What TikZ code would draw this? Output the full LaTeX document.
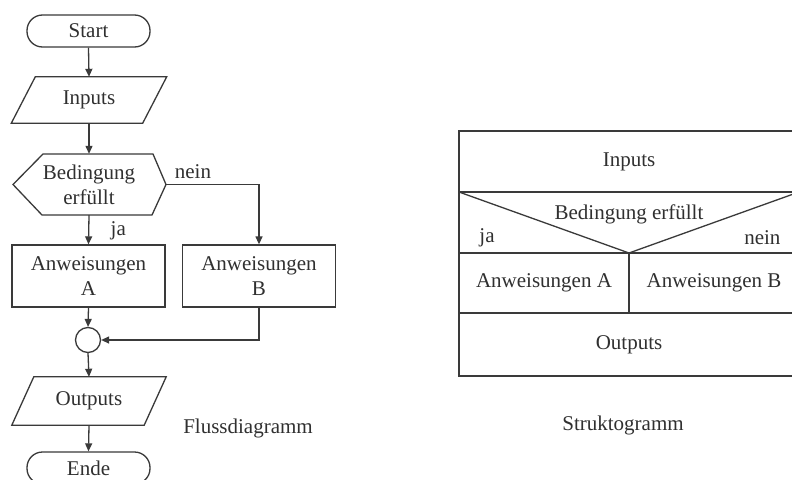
\documentclass[tikz,border=0pt]{standalone}
\usepackage{fontspec}
\setmainfont{Liberation Serif}
\usetikzlibrary{arrows.meta}
\definecolor{ln}{HTML}{3A3A3A}
\definecolor{tx}{HTML}{303030}
\begin{document}
\begin{tikzpicture}[x=1pt,y=-1pt,
  every node/.style={text=tx,font=\fontsize{21}{25}\selectfont},
  line/.style={draw=ln,line width=1.3pt},
  arr/.style={line,-{Triangle[length=8pt,width=7pt]}},
  term/.style={line,rounded corners=15.5pt,minimum width=123pt,minimum height=32pt,inner sep=0pt},
  box/.style={line,minimum width=153pt,minimum height=62pt,inner sep=0pt,align=center},
  ghost/.style={inner sep=0pt,align=center}]
\useasboundingbox (0,0) rectangle (792,479);
\clip (0,0) rectangle (792,479);
\fill[white] (0,0) rectangle (792,479);

% Flussdiagramm
\node[term] (st) at (88.5,31) {Start};
\node[ghost,minimum width=131pt,minimum height=46pt] (in) at (89,100) {Inputs};
\draw[line] ([xshift=12pt]in.north west) -- ([xshift=12pt]in.north east)
  -- ([xshift=-12pt]in.south east) -- ([xshift=-12pt]in.south west) -- cycle;
\node[ghost,minimum width=110pt,minimum height=61pt] (hx) at (89,184.5) {Bedingung\\erfüllt};
\draw[line] ([shift={(-46,-30.5)}]hx.center) -- ([shift={(64,-30.5)}]hx.center)
  -- ([shift={(77,0)}]hx.center) -- ([shift={(63,30.5)}]hx.center)
  -- ([shift={(-47,30.5)}]hx.center) -- ([shift={(-76,0)}]hx.center) -- cycle;
\coordinate (hxr) at ([shift={(77,0)}]hx.center);
\node[box] (a) at (88.5,276) {Anweisungen\\A};
\node[box] (b) at (259,276) {Anweisungen\\B};
\node[line,circle,minimum size=25pt,inner sep=0pt] (jn) at (88,340) {};
\node[ghost,minimum width=132pt,minimum height=48pt] (out) at (89,401) {Outputs};
\draw[line] ([xshift=11pt]out.north west) -- ([xshift=11pt]out.north east)
  -- ([xshift=-11pt]out.south east) -- ([xshift=-11pt]out.south west) -- cycle;
\node[term] (en) at (88.5,468) {Ende};

\draw[arr] (st.south) -- (in.north);
\draw[arr] (in.south) -- (hx.north);
\draw[arr] (hx.south) -- node[right,xshift=18pt,yshift=-1pt] {ja} (a.north);
\draw[arr] (hxr) -| (b.north);
\node (nn) at (193,172) {nein};
\draw[arr] (a.south) -- (jn.north);
\draw[arr] (b.south) |- (jn.east);
\draw[arr] (jn.south) -- (out.north);
\draw[arr] (out.south) -- (en.north);
\node (fl) at (248,428) {Flussdiagramm};

% Struktogramm
\coordinate (s1) at (459,131);
\coordinate (s2) at (799,376);
\draw[line] (s1) rectangle (s2);
\draw[line] (459,192) -- (799,192);
\draw[line] (459,253) -- (799,253);
\draw[line] (459,313) -- (799,313);
\draw[line] (459,192) -- (629,253) -- (799,192);
\draw[line] (629,253) -- (629,313);
\node (si) at (629,162) {Inputs};
\node (sb) at (629,214) {Bedingung erfüllt};
\node (sj) at (487,238) {ja};
\node[anchor=east] (sn) at (784,238) {nein};
\node (sa) at (544,283) {Anweisungen A};
\node (sbb) at (714,283) {Anweisungen B};
\node (so) at (629,345) {Outputs};
\node (sl) at (623,425) {Struktogramm};
\end{tikzpicture}
\end{document}
